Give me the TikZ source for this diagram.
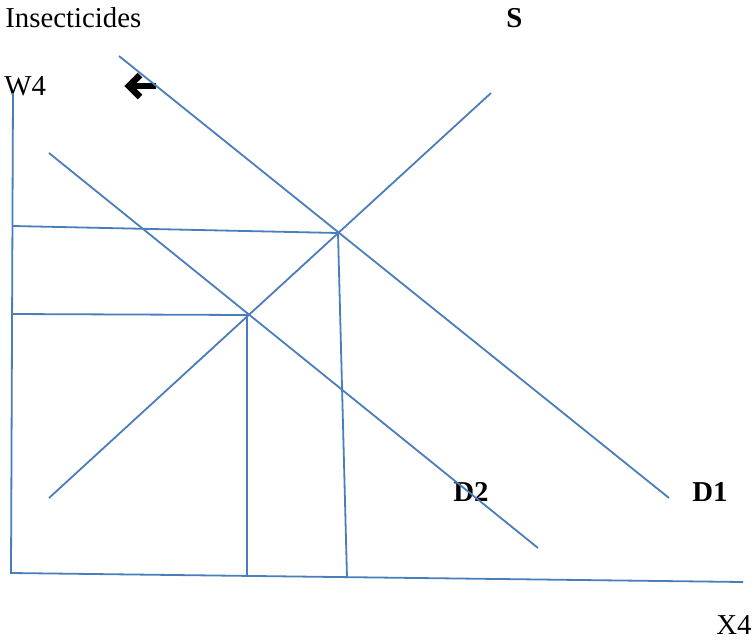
\documentclass[tikz,border=0pt]{standalone}
\usepackage{fontspec}
\setmainfont{Liberation Serif}
\begin{document}
\begin{tikzpicture}[x=0.5pt,y=-0.5pt,
  curve/.style={draw=lineblue,line width=0.9pt},
  lbl/.style={anchor=base west,inner sep=0pt,font=\fontsize{14.4}{17}\selectfont},
  blbl/.style={lbl,font=\fontsize{14.4}{17}\selectfont\bfseries}]
\definecolor{lineblue}{HTML}{4A7EBB}
\useasboundingbox (0,0) rectangle (753,643);
% labels
\node[lbl] (ins) at (5,27) {Insecticides};
\node[blbl] (s) at (506,27) {S};
\node[lbl] (w4) at (4,95) {W4};
\node[blbl] (d2) at (453,501) {D2};
\node[blbl] (d1) at (692,501) {D1};
\node[lbl] (x4) at (716,634) {X4};
% shift arrow (drawn beneath the curves)
\coordinate (arA) at (156,86);
\coordinate (arB) at (131,86);
\draw[line width=3.2pt] (arA) -- (arB);
\draw[line width=3.2pt,miter limit=10] (140,75) -- (129,86) -- (140,97);
% axes
\coordinate (ytop) at (13,93);
\coordinate (org) at (11,573);
\coordinate (xend) at (743,582);
\draw[curve] (ytop) -- (org) -- (xend);
% curves
\coordinate (d1a) at (119,56);
\coordinate (d1b) at (669,498);
\coordinate (d2a) at (49,153);
\coordinate (d2b) at (538,548);
\coordinate (sa) at (49,498);
\coordinate (sb) at (491,93);
\draw[curve] (d1a) -- (d1b);
\draw[curve] (d2a) -- (d2b);
\draw[curve] (sa) -- (sb);
% equilibria
\coordinate (e1) at (338,233);
\coordinate (e2) at (247,315);
\coordinate (p1) at (13,226);
\coordinate (p2) at (11,314);
\coordinate (q1) at (347,578);
\coordinate (q2) at (247,575);
\draw[curve] (p1) -- (e1) -- (q1);
\draw[curve] (p2) -- (e2) -- (q2);
\end{tikzpicture}
\end{document}
